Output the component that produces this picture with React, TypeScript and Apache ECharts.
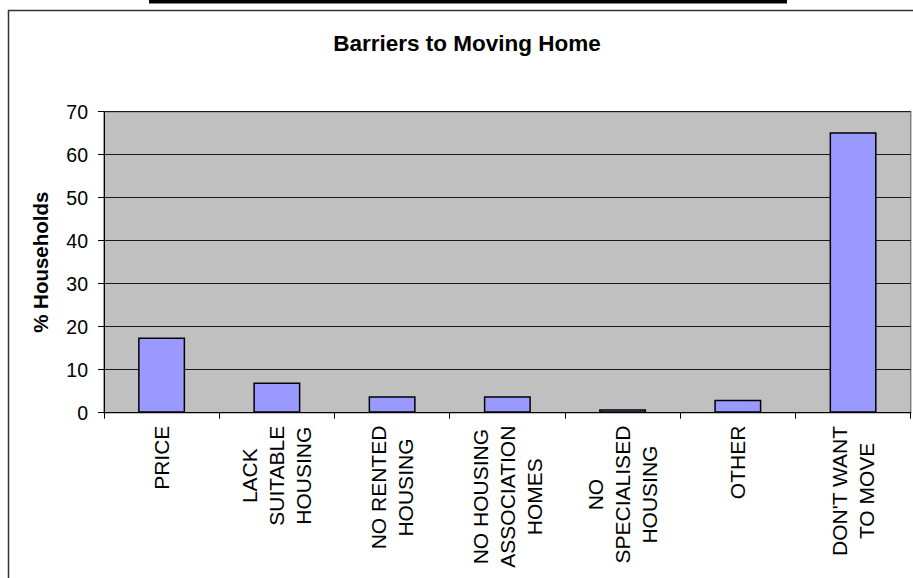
import React, { useEffect, useRef } from "react";
import * as echarts from "echarts";

const categories = [
  "PRICE",
  "LACK\nSUITABLE\nHOUSING",
  "NO RENTED\nHOUSING",
  "NO HOUSING\nASSOCIATION\nHOMES",
  "NO\nSPECIALISED\nHOUSING",
  "OTHER",
  "DON'T WANT\nTO MOVE",
];
const values = [17.5, 7.0, 3.8, 3.8, 0.8, 3.0, 65.2];
const yTicks = { min: 0, max: 70, interval: 10 };
const titleText = "Barriers to Moving Home";
const yName = "% Households";

const FONT = "'Liberation Sans', Arial, sans-serif";

export default function App() {
  const ref = useRef<HTMLDivElement>(null);
  useEffect(() => {
    if (!ref.current) return;
    const chart = echarts.init(ref.current, null, { renderer: "svg" });
    chart.setOption({
      animation: false,
      backgroundColor: "#ffffff",
      title: {
        text: titleText,
        left: 467,
        top: 31.5,
        textAlign: "center",
        padding: 0,
        textStyle: { fontFamily: FONT, fontWeight: "bold", fontSize: 22.5, color: "#000" },
      },
      graphic: [
        {
          type: "rect",
          shape: { x: 149, y: 0, width: 638, height: 3.5 },
          style: { fill: "#000" },
          silent: true,
        },
        {
          type: "rect",
          shape: { x: 8.5, y: 10.5, width: 920, height: 600 },
          style: { fill: "none", stroke: "#333", lineWidth: 1.5 },
          silent: true,
          z: -1,
        },
      ],
      grid: {
        left: 104,
        right: 2.3,
        top: 111.7,
        bottom: 165.3,
        show: true,
        backgroundColor: "#c0c0c0",
        borderColor: "#808080",
        borderWidth: 1.5,
      },
      xAxis: {
        type: "category",
        data: categories,
        axisLine: { show: true, lineStyle: { color: "#000", width: 1 } },
        axisTick: { show: true, length: 6, alignWithLabel: false, lineStyle: { color: "#000" } },
        splitLine: { show: false },
        axisLabel: {
          interval: 0,
          rotate: 90,
          margin: 13,
          formatter: (v: string) => v.split("\n").map((l) => `{c|${l}}`).join("\n"),
          rich: {
            c: { align: "center", fontSize: 21, lineHeight: 27, fontFamily: FONT, color: "#000" },
          },
        },
      },
      yAxis: {
        type: "value",
        min: yTicks.min,
        max: yTicks.max,
        interval: yTicks.interval,
        name: yName,
        nameLocation: "middle",
        nameRotate: 90,
        nameGap: 53,
        nameTextStyle: { fontFamily: FONT, fontWeight: "bold", fontSize: 20.5, color: "#000" },
        axisLine: { show: true, lineStyle: { color: "#000", width: 1 } },
        axisTick: { show: true, length: 6, lineStyle: { color: "#000" } },
        axisLabel: { margin: 16, fontFamily: FONT, fontSize: 19.5, color: "#000" },
        splitLine: { show: true, lineStyle: { color: "#1a1a1a", width: 1 } },
      },
      series: [
        {
          type: "bar",
          data: values,
          barWidth: 47,
          itemStyle: { color: "#9999ff", borderColor: "#000", borderWidth: 1.5 },
        },
      ],
    });
    return () => chart.dispose();
  }, []);
  return (
    <div
      ref={ref}
      style={{ position: "fixed", left: 0, top: 0, width: 913, height: 578 }}
    />
  );
}
